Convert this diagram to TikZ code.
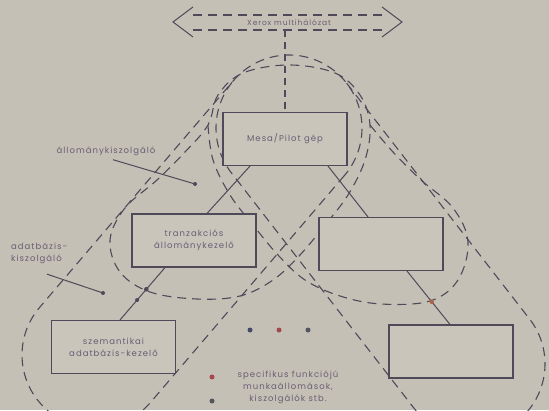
\documentclass[tikz,border=0pt]{standalone}
\usepackage{fontspec}
\setmainfont{Poppins}[LetterSpace=12]
\usetikzlibrary{calc}
\definecolor{bg}{RGB}{197,192,181}
\definecolor{boxbg}{RGB}{201,197,187}
\definecolor{ink}{RGB}{78,74,90}
\definecolor{txt}{RGB}{104,94,116}
\definecolor{dotred}{RGB}{165,70,80}
\definecolor{dotblue}{RGB}{70,72,110}
\definecolor{dotgray}{RGB}{85,85,95}
\definecolor{dotorange}{RGB}{175,100,75}
\newcommand\mylbl{\fontsize{8.5}{12}\selectfont}
\begin{document}
\begin{tikzpicture}[x=1pt,y=1pt,
  box/.style={draw=ink,line width=1.1pt,fill=boxbg,minimum width=124pt,minimum height=53pt,inner sep=0pt,align=center,text=txt,font=\mylbl},
  region/.style={draw=ink,line width=1.1pt,dash pattern=on 9pt off 6pt},
  conn/.style={draw=ink,line width=1pt},
  lab/.style={text=txt,font=\mylbl,inner sep=0pt},
  dotc/.style={circle,fill=#1,inner sep=0pt,minimum size=5pt}]
\fill[bg] (0,0) rectangle (549,410);
\useasboundingbox (0,0) rectangle (549,410);
% big regions (pills)
\begin{scope}[shift={(289,282)},rotate=-130.52]
 \draw[region] (0,73) -- (298.6,73) arc[start angle=90,end angle=-90,radius=73pt] -- (0,-73) arc[start angle=-90,end angle=-270,radius=73pt] -- cycle;
\end{scope}
\begin{scope}[shift={(289,282)},rotate=-52.2]
 \draw[region] (0,73) -- (298.6,73) arc[start angle=90,end angle=-90,radius=73pt] -- (0,-73) arc[start angle=-90,end angle=-168.3,radius=73pt];
\end{scope}
% small regions
\draw[region] plot[smooth cycle,tension=0.6] coordinates {(289,345) (335,337) (360,315) (370,285) (365,250) (348,215) (325,185) (300,155) (273,130) (240,114) (197,111) (150,118) (120,138) (110,170) (125,202) (157,230) (185,258) (208,285) (218,315) (243,337)};
\draw[region] plot[smooth,tension=0.6] coordinates {(208,285) (213,250) (230,215) (253,185) (278,155) (305,130) (340,114) (381,106) (430,109) (458,130) (468,168) (453,202) (421,230) (393,258) (370,285)};
% network arrow
\coordinate (netL) at (173,388);
\coordinate (netR) at (402,388);
\draw[region] (193,395) -- (382,395);
\draw[region] (193,380) -- (382,380);
\draw[conn] (193,403) -- (netL) -- (193,373);
\draw[conn] (382,403) -- (netR) -- (382,373);
\node[lab,font=\fontsize{7.5}{9}\selectfont] (net) at (289,387.5) {Xerox multihálózat};
% boxes
\node[box] (mesa) at (285,271) {Mesa/Pilot gép};
\node[box] (trans) at (194,169.5) {tranzakciós\\állománykezelő};
\node[box] (ru) at (381,166) {};
\node[box] (sem) at (113.5,63) {szemantikai\\adatbázis-kezelő};
\node[box] (rl) at (451,58.5) {};
\draw[region,dash pattern=on 7pt off 5pt] (mesa.north |- 0,380) -- (mesa.north);
% connectors
\draw[conn] ($(mesa.south)+(-35,0)$) -- ($(trans.north)+(13,0)$);
\draw[conn] ($(mesa.south)+(43,0)$) -- ($(ru.north)+(-13,0)$);
\path ($(trans.south)+(-29,0)$) coordinate (ts) ($(sem.north)+(6.5,0)$) coordinate (sn);
\draw[conn] (ts) -- (sn);
\fill[ink] ($(ts)!0.415!(sn)$) circle[radius=2.3pt];
\fill[ink] ($(ts)!0.62!(sn)$) circle[radius=2pt];
\path ($(ru.south)+(26,0)$) coordinate (rs) ($(rl.north)+(-1,0)$) coordinate (rn);
\draw[conn] (rs) -- (rn);
\fill[dotorange] ($(rs)!0.574!(rn)$) circle[radius=2.3pt];
% labels
\node[lab] (allk) at (106,259) {állománykiszolgáló};
\coordinate (allkp) at (195,226);
\draw[conn] ($(allk.south)+(7,-4)$) -- (allkp);
\fill[ink] (allkp) circle[radius=2pt];
\node[lab,align=left,anchor=west] (adbk) at (11,156.5) {adatbázis-\\kiszolgáló};
\coordinate (adbkp) at (103,117);
\draw[conn] ($(adbk.south west)+(36,-10)$) -- (adbkp);
\fill[ink] (adbkp) circle[radius=2pt];
% dots and legend
\node[dotc=dotblue] (m1) at (250,80) {};
\node[dotc=dotred] (m2) at (279,80) {};
\node[dotc=dotgray] (m3) at (308,80) {};
\node[dotc=dotred] (l1) at (212,33) {};
\node[dotc=dotgray] (l2) at (212,9) {};
\node[lab,align=center] (legend) at (288,23) {specifikus funkciójú\\munkaállomások,\\kiszolgálók stb.};
\end{tikzpicture}
\end{document}
